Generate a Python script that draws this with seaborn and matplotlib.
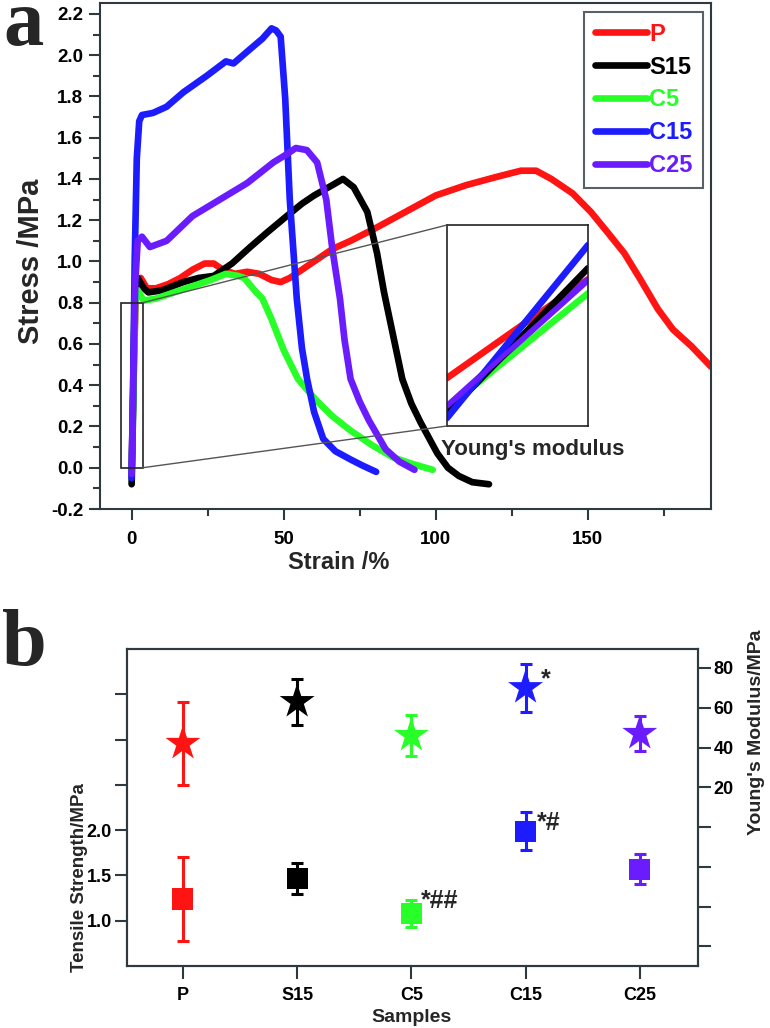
import matplotlib
matplotlib.use("Agg")
import pandas as pd
import matplotlib.pyplot as plt
import seaborn as sns
from matplotlib.patches import Rectangle, ConnectionPatch
from matplotlib.ticker import MultipleLocator, FormatStrFormatter

# --- data (panel a: stress-strain curves) ---
samples = ["P", "S15", "C5", "C15", "C25"]
colors = ["#ff1414", "#000000", "#28ff28", "#1c1cff", "#6a1cff"]

p_strain = [0, 0.3, 0.8, 1.5, 3, 5, 8, 12, 16, 20, 24, 27, 30, 34, 38, 42, 46, 49, 52, 56,
            60, 66, 72, 80, 90, 100, 110, 120, 128, 133, 138, 145, 151, 156, 162, 167, 173,
            178, 184, 190.5]
p_stress = [-0.02, 0.2, 0.55, 0.9, 0.92, 0.87, 0.87, 0.89, 0.92, 0.96, 0.99, 0.99, 0.96, 0.94,
            0.95, 0.94, 0.91, 0.90, 0.92, 0.96, 1.0, 1.06, 1.1, 1.16, 1.24, 1.32, 1.37, 1.41,
            1.44, 1.44, 1.40, 1.33, 1.24, 1.15, 1.04, 0.92, 0.77, 0.67, 0.59, 0.49]

s15_strain = [0, 0.5, 1.0, 2, 4, 5.5, 10, 17, 22, 27, 33, 39, 44.5, 51, 56, 60, 66, 69.5, 73,
              77.5, 80.7, 83, 86, 89, 92, 95, 100.5, 104, 107.6, 112, 117.5]
s15_stress = [-0.08, 0.3, 0.85, 0.92, 0.87, 0.85, 0.86, 0.90, 0.92, 0.93, 0.99, 1.07, 1.14,
              1.22, 1.28, 1.32, 1.37, 1.40, 1.36, 1.24, 1.04, 0.85, 0.64, 0.43, 0.31, 0.22,
              0.07, 0.0, -0.04, -0.07, -0.08]

c5_strain = [0, 0.5, 1.2, 2, 4, 8, 12, 20, 26, 31, 35, 37, 41, 43, 46, 50, 54.7, 60.5, 66, 72,
             79, 86, 92, 99]
c5_stress = [-0.02, 0.3, 0.8, 0.86, 0.81, 0.82, 0.84, 0.88, 0.91, 0.94, 0.93, 0.92, 0.85, 0.82,
             0.72, 0.57, 0.43, 0.33, 0.25, 0.18, 0.11, 0.05, 0.02, -0.01]

c15_strain = [0, 0.5, 1.0, 1.7, 2.5, 3.4, 7, 11.5, 17, 24.7, 31, 33.5, 39, 43, 46, 47.5, 49,
              50.5, 52, 54.3, 56, 57.7, 60, 63, 67, 72, 76, 80.4]
c15_stress = [-0.05, 0.4, 1.0, 1.5, 1.68, 1.71, 1.72, 1.75, 1.82, 1.90, 1.97, 1.96, 2.03, 2.08,
              2.13, 2.12, 2.09, 1.79, 1.30, 0.82, 0.58, 0.43, 0.27, 0.14, 0.08, 0.04, 0.01, -0.02]

c25_strain = [0, 0.5, 1.2, 2, 3.4, 6, 11.5, 20, 29, 38, 46.6, 51, 54, 57.6, 61, 64, 66, 68.5,
              70, 72, 75, 78, 83.5, 88, 93]
c25_stress = [-0.03, 0.4, 0.9, 1.1, 1.12, 1.07, 1.10, 1.22, 1.30, 1.38, 1.48, 1.52, 1.55, 1.54,
              1.48, 1.30, 1.06, 0.82, 0.62, 0.43, 0.32, 0.23, 0.09, 0.03, -0.01]

# inset (Young's modulus, initial linear part)
inset_strain = [0, 2.0]
inset_p_strain = [0, 0.94, 2.0]
inset_p = [0.191, 0.377, 0.584]
inset_s15 = [0.05, 0.628]
inset_c5 = [0.072, 0.528]
inset_c15 = [0.032, 0.72]
inset_c25 = [0.078, 0.582]

# --- data (panel b) ---
tensile_mean = [1.24, 1.47, 1.08, 1.99, 1.57]
tensile_err = [0.46, 0.17, 0.15, 0.21, 0.17]
modulus_mean = [42, 63, 46, 70, 47]
modulus_err = [21, 11.5, 10.5, 12, 9]
sig_modulus = {3: "*"}
sig_tensile = {3: "*#", 2: "*##"}

sns.set_theme(style="ticks")
plt.rcParams["font.family"] = ["Liberation Sans", "DejaVu Sans"]
plt.rcParams["font.weight"] = "bold"
plt.rcParams["axes.unicode_minus"] = False
spine_c = "#2e3a40"

W, H = 770, 1028
fig = plt.figure(figsize=(W / 100, H / 100), dpi=100)


def box(l, t, r, b):
    return [l / W, 1 - b / H, (r - l) / W, (b - t) / H]


# ---------------- panel a ----------------
curves = {"P": (p_strain, p_stress), "S15": (s15_strain, s15_stress),
          "C5": (c5_strain, c5_stress), "C15": (c15_strain, c15_stress),
          "C25": (c25_strain, c25_stress)}
df = pd.concat([pd.DataFrame({"strain": s, "stress": t, "sample": k})
                for k, (s, t) in curves.items()], ignore_index=True)
pal = dict(zip(samples, colors))

ax = fig.add_axes(box(100, 3, 711, 509))
sns.lineplot(data=df, x="strain", y="stress", hue="sample", palette=pal, sort=False,
             estimator=None, lw=4.8, legend=False, ax=ax)
ax.set_xlim(-10.4, 190.5)
ax.set_ylim(-0.2, 2.253)
ax.xaxis.set_major_locator(MultipleLocator(50))
ax.xaxis.set_minor_locator(MultipleLocator(25))
ax.yaxis.set_major_locator(MultipleLocator(0.2))
ax.yaxis.set_minor_locator(MultipleLocator(0.1))
ax.yaxis.set_major_formatter(FormatStrFormatter("%.1f"))
ax.tick_params(which="major", direction="out", length=8, width=1.5, labelsize=13.5,
               colors=spine_c, labelcolor="black")
ax.tick_params(axis="x", which="major", pad=8)
ax.tick_params(axis="y", which="major", pad=4)
ax.tick_params(which="minor", direction="out", length=5, width=1.5, colors=spine_c)
for sp in ax.spines.values():
    sp.set_color(spine_c)
    sp.set_linewidth(1.5)
ax.set_xlabel("Strain /%", fontsize=17, fontweight="bold")
ax.set_ylabel("Stress /MPa", fontsize=21, fontweight="bold")
ax.xaxis.set_label_coords(0.39, -0.083)
ax.yaxis.set_label_coords(-0.09, 0.49)

handles = [plt.Line2D([], [], color=c, lw=4.8) for c in colors]
leg = ax.legend(handles, samples, loc="upper right", bbox_to_anchor=(703 / W, 1 - 12 / H),
                bbox_transform=fig.transFigure, frameon=True, fancybox=False,
                fontsize=17, handlelength=2.2, handletextpad=0.1, labelspacing=0.42,
                borderpad=0.45, borderaxespad=0, labelcolor="linecolor")
leg.get_frame().set_edgecolor(spine_c)
leg.get_frame().set_linewidth(1.5)
for t in leg.get_texts():
    t.set_fontweight("bold")

ax.add_patch(Rectangle((-3.6, 0), 7.2, 0.8, fill=False, ec="#222222", lw=1.2, zorder=5))

axin = fig.add_axes(box(447, 225, 588, 426))
axin.plot(inset_p_strain, inset_p, color=colors[0], lw=4.8)
for vals, c in zip([inset_c5, inset_c25, inset_s15, inset_c15],
                   [colors[2], colors[4], colors[1], colors[3]]):
    axin.plot(inset_strain, vals, color=c, lw=4.8)
axin.plot(inset_strain, inset_c25, color=colors[4], lw=3.5)
axin.set_xlim(0, 2.0)
axin.set_ylim(0, 0.8)
axin.set_xticks([])
axin.set_yticks([])
for sp in axin.spines.values():
    sp.set_color("#222222")
    sp.set_linewidth(1.2)

for ya, yb in [(0.8, 1), (0.0, 0)]:
    con = ConnectionPatch(xyA=(3.6, ya), coordsA=ax.transData, xyB=(0, yb),
                          coordsB=axin.transAxes, color="#555555", lw=1.0)
    fig.add_artist(con)
fig.text(441 / W, 1 - 450 / H, "Young's modulus", fontsize=16, fontweight="bold",
         ha="left", va="center")

fig.text(3 / W, 1 - 45 / H, "a", family=["Liberation Serif"], fontweight="bold",
         fontsize=58, va="baseline")
fig.text(2 / W, 1 - 665 / H, "b", family=["Liberation Serif"], fontweight="bold",
         fontsize=58, va="baseline")

# ---------------- panel b ----------------
ax2 = fig.add_axes(box(127, 649, 698, 966))
ax3 = ax2.twinx()
pos = list(range(len(samples)))
dfb = pd.DataFrame({"pos": pos, "tensile": tensile_mean, "modulus": modulus_mean,
                    "sample": samples})
for i, c in enumerate(colors):
    ax2.errorbar(pos[i], tensile_mean[i], yerr=tensile_err[i], fmt="none", ecolor=c,
                 elinewidth=2.2, capsize=4, capthick=2.2)
    ax3.errorbar(pos[i], modulus_mean[i], yerr=modulus_err[i], fmt="none", ecolor=c,
                 elinewidth=2.2, capsize=4, capthick=2.2)
sns.scatterplot(data=dfb, x="pos", y="tensile", hue="sample", palette=pal, marker="s",
                s=230, linewidth=0, legend=False, ax=ax2, zorder=3)
sns.scatterplot(data=dfb, x="pos", y="modulus", hue="sample", palette=pal, marker="*",
                s=700, linewidth=0, legend=False, ax=ax3, zorder=3)

ax2.set_xlim(-0.49, 4.51)
ax2.set_ylim(0.5, 4.0)
ax3.set_ylim(-69.8, 89.5)
ax2.set_xticks(pos)
ax2.set_xticklabels(samples)
ax2.set_yticks([1.0, 1.5, 2.0, 2.5, 3.0, 3.5])
ax2.set_yticklabels(["1.0", "1.5", "2.0", "", "", ""])
ax3.set_yticks([-60, -40, -20, 0, 20, 40, 60, 80])
ax3.set_yticklabels(["", "", "", "", "20", "40", "60", "80"])
for a in (ax2, ax3):
    a.tick_params(direction="out", length=9, width=1.5, labelsize=13, pad=2,
                  colors=spine_c, labelcolor="black")
    for sp in a.spines.values():
        sp.set_color(spine_c)
        sp.set_linewidth(1.5)
ax2.tick_params(axis="x", pad=6)
ax2.set_xlabel("Samples", fontsize=14, fontweight="bold")
ax2.set_ylabel("Tensile Strength/MPa", fontsize=13.5, fontweight="bold")
ax3.set_ylabel("Young's Modulus/MPa", fontsize=14, fontweight="bold")
ax2.xaxis.set_label_coords(0.499, -0.135)
ax2.yaxis.set_label_coords(-0.068, 0.278)
ax3.yaxis.set_label_coords(1.0875, 0.738)

for i, txt in sig_modulus.items():
    ax3.annotate(txt, xy=(pos[i], modulus_mean[i]), xytext=(11, 6),
                 textcoords="offset points", fontsize=18, fontweight="bold", va="center")
for i, txt in sig_tensile.items():
    off = (8, 6) if i == 3 else (7, 9)
    ax2.annotate(txt, xy=(pos[i], tensile_mean[i]), xytext=off,
                 textcoords="offset points", fontsize=18, fontweight="bold", va="center")

fig.savefig("out.png", dpi=100)
